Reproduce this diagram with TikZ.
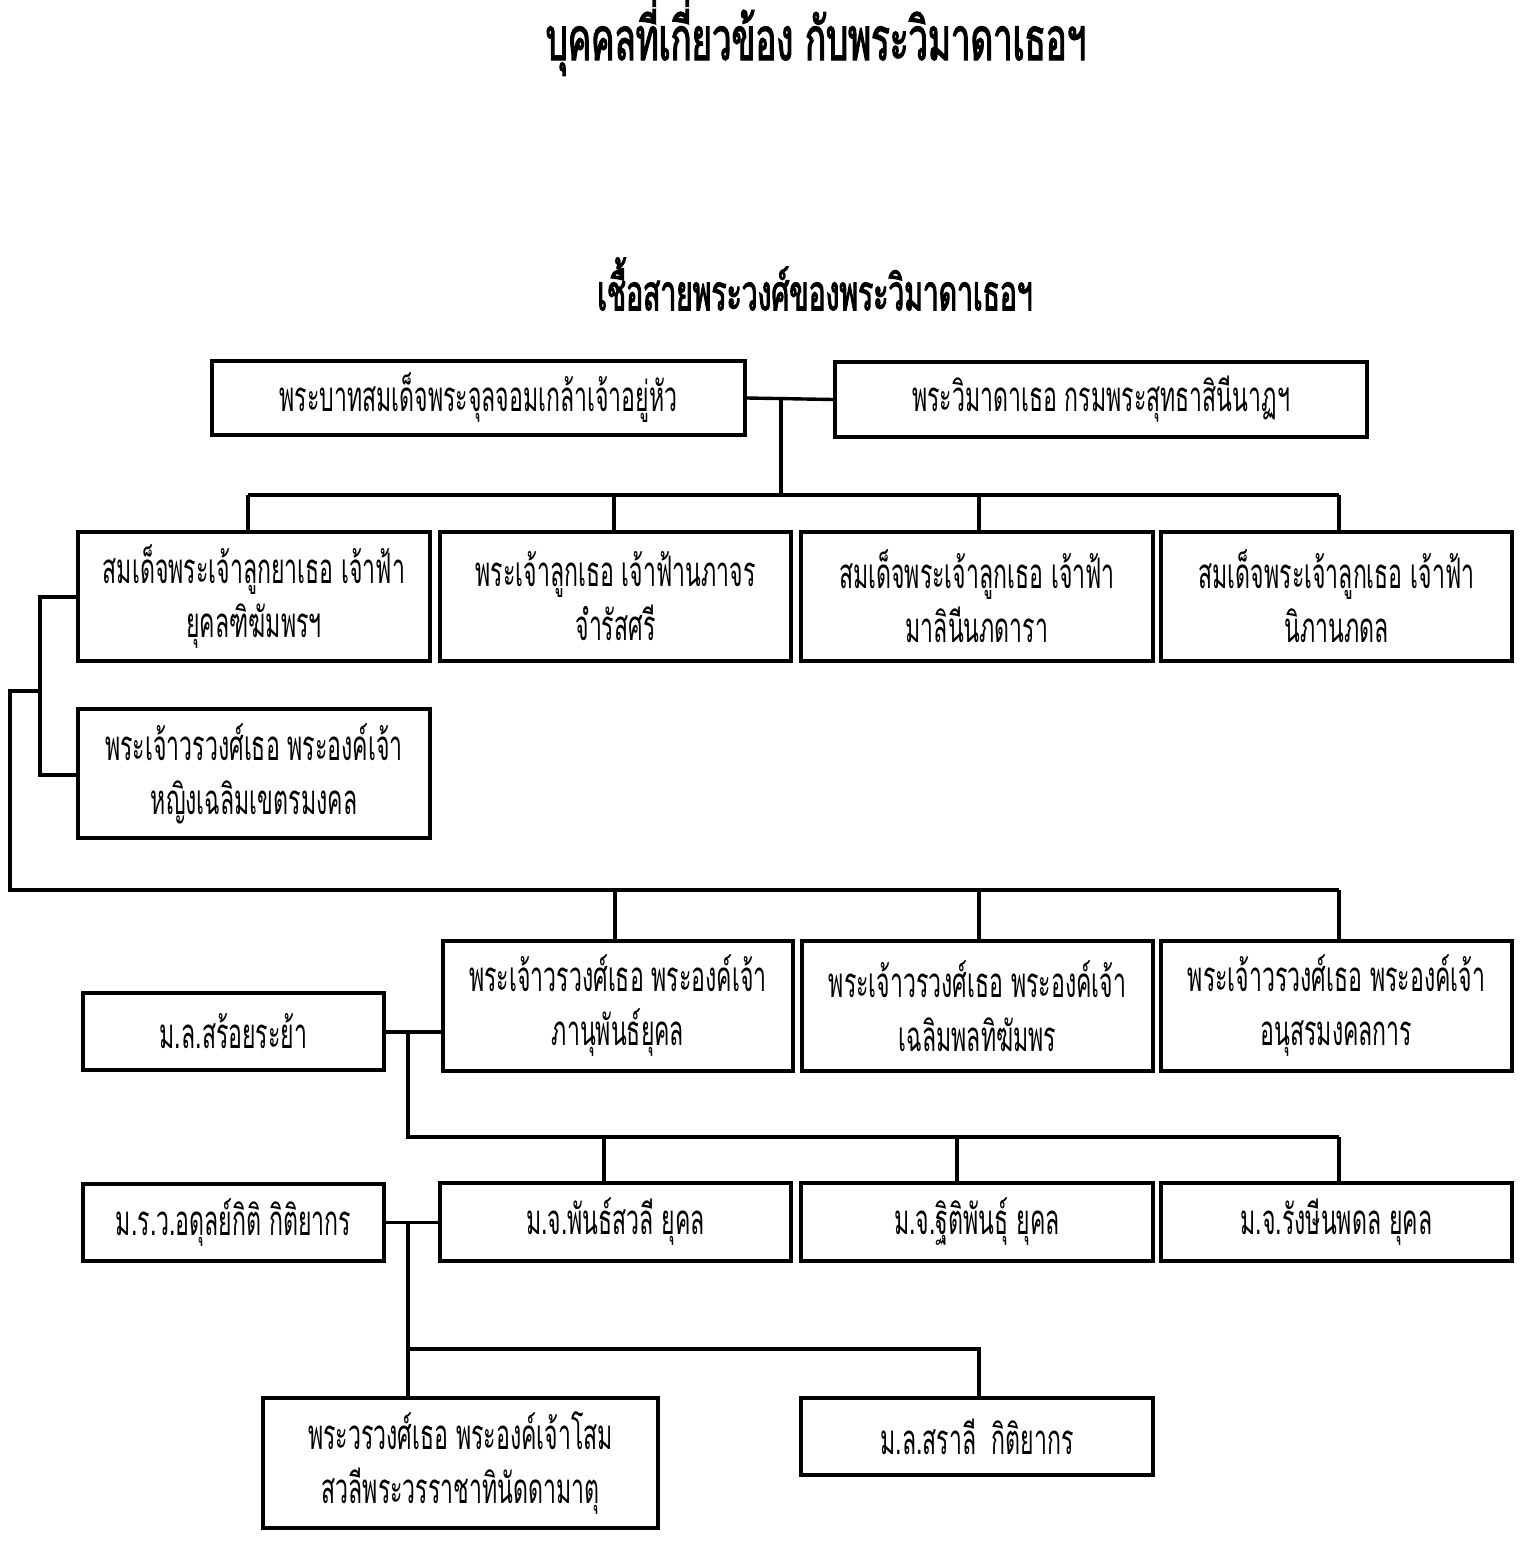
\documentclass[tikz,border=0pt]{standalone}
\usepackage{fontspec}
\newfontfamily\thai[Script=Thai, FakeStretch=0.55]{Loma}
\newfontfamily\thaititle[Script=Thai, FakeStretch=0.58, FakeBold=2]{Loma}
\newfontfamily\thaisub[Script=Thai, FakeStretch=0.565, FakeBold=2]{Loma}
\tikzset{
  box/.style={draw, line width=1.7pt, inner sep=0pt, align=center,
    font=\thai\fontsize{21}{27}\selectfont},
  conn/.style={line width=1.7pt}}
\begin{document}
\begin{tikzpicture}[x=0.5pt,y=-0.5pt]
\useasboundingbox (0,0) rectangle (1537,1557);
% titles
\node[font=\thaititle\fontsize{30}{34}\selectfont] (title) at (816,37) {บุคคลที่เกี่ยวข้อง กับพระวิมาดาเธอฯ};
\node[font=\thaisub\fontsize{25}{30}\selectfont] (sub) at (815,284) {เชื้อสายพระวงศ์ของพระวิมาดาเธอฯ};
% row 0
\node[box, minimum width=266.5pt, minimum height=37pt] (A) at (478.5,398) {พระบาทสมเด็จพระจุลจอมเกล้าเจ้าอยู่หัว};
\node[box, minimum width=266pt, minimum height=37.5pt] (B) at (1101,399.5) {พระวิมาดาเธอ กรมพระสุทธาสินีนาฏฯ};
% row 1
\node[box, minimum width=176pt, minimum height=64.5pt] (C1) at (254,596.5) {สมเด็จพระเจ้าลูกยาเธอ เจ้าฟ้า\\ยุคลฑิฆัมพรฯ};
\node[box, minimum width=175.5pt, minimum height=64.5pt] (C2) at (615.5,596.5) {พระเจ้าลูกเธอ เจ้าฟ้านภาจร\\จำรัสศรี};
\node[box, minimum width=176pt, minimum height=64.5pt] (C3) at (977,596.5) {สมเด็จพระเจ้าลูกเธอ เจ้าฟ้า\\มาลินีนภดารา};
\node[box, minimum width=175.5pt, minimum height=64.5pt] (C4) at (1336.5,596.5) {สมเด็จพระเจ้าลูกเธอ เจ้าฟ้า\\นิภานภดล};
\node[box, minimum width=176pt, minimum height=64.5pt] (D) at (254,773.5) {พระเจ้าวรวงศ์เธอ พระองค์เจ้า\\หญิงเฉลิมเขตรมงคล};
% row 3
\node[box, minimum width=175pt, minimum height=65pt] (E1) at (618,1006) {พระเจ้าวรวงศ์เธอ พระองค์เจ้า\\ภานุพันธ์ยุคล};
\node[box, minimum width=175.5pt, minimum height=65pt] (E2) at (977.5,1006) {พระเจ้าวรวงศ์เธอ พระองค์เจ้า\\เฉลิมพลทิฆัมพร};
\node[box, minimum width=175.5pt, minimum height=65pt] (E3) at (1336.5,1006) {พระเจ้าวรวงศ์เธอ พระองค์เจ้า\\อนุสรมงคลการ};
\node[box, minimum width=150.5pt, minimum height=38.5pt] (F) at (233.5,1031.5) {ม.ล.สร้อยระย้า};
% row 4
\node[box, minimum width=175.5pt, minimum height=39pt] (G1) at (615.5,1222) {ม.จ.พันธ์สวลี ยุคล};
\node[box, minimum width=176pt, minimum height=39pt] (G2) at (977,1222) {ม.จ.ฐิติพันธุ์ ยุคล};
\node[box, minimum width=175.5pt, minimum height=39pt] (G3) at (1336.5,1222) {ม.จ.รังษีนพดล ยุคล};
\node[box, minimum width=150.5pt, minimum height=38.5pt] (H) at (233.5,1222.5) {ม.ร.ว.อดุลย์กิติ กิติยากร};
% row 5
\node[box, minimum width=197.5pt, minimum height=65pt] (I) at (460.5,1463) {พระวรวงศ์เธอ พระองค์เจ้าโสม\\สวลีพระวรราชาทินัดดามาตุ};
\node[box, minimum width=176pt, minimum height=38.5pt] (J) at (977,1436.5) {ม.ล.สราลี\ \ กิติยากร};
% connector coordinates
\coordinate (j1) at (781,400);
\coordinate (b1) at (781,495);
\coordinate (bL) at (248,495);
\coordinate (bR) at (1339,495);
\coordinate (c2t) at (614,495);
\coordinate (c3t) at (979,495);
\coordinate (k1) at (40,597);
\coordinate (k2) at (40,691);
\coordinate (k3) at (40,775);
\coordinate (m1) at (10,691);
\coordinate (m2) at (10,890);
\coordinate (mR) at (1339,890);
\coordinate (e1t) at (615,890);
\coordinate (e2t) at (979,890);
\coordinate (f1) at (408,1032);
\coordinate (f2) at (408,1137);
\coordinate (fR) at (1339,1137);
\coordinate (g1t) at (604,1137);
\coordinate (g2t) at (957,1137);
\coordinate (h1) at (408,1222);
\coordinate (h2) at (408,1349);
\coordinate (hR) at (979,1349);
% connectors
\draw[conn] (A.east) -- (B.west);
\draw[conn] (j1) -- (b1);
\draw[conn] (bL) -- (bR);
\draw[conn] (bL) -- (bL |- C1.north);
\draw[conn] (c2t) -- (c2t |- C2.north);
\draw[conn] (c3t) -- (c3t |- C3.north);
\draw[conn] (bR) -- (bR |- C4.north);
\draw[conn] (C1.west |- k1) -- (k1) -- (k3) -- (k3 -| D.west);
\draw[conn] (k2) -- (m1) -- (m2) -- (mR);
\draw[conn] (e1t) -- (e1t |- E1.north);
\draw[conn] (e2t) -- (e2t |- E2.north);
\draw[conn] (mR) -- (mR |- E3.north);
\draw[conn] (F.east |- f1) -- (f1 -| E1.west);
\draw[conn] (f1) -- (f2) -- (fR);
\draw[conn] (g1t) -- (g1t |- G1.north);
\draw[conn] (g2t) -- (g2t |- G2.north);
\draw[conn] (fR) -- (fR |- G3.north);
\draw[conn] (H.east) -- (H.east -| G1.west);
\draw[conn] (h1) -- (h1 |- I.north);
\draw[conn] (h2) -- (hR) -- (hR |- J.north);
\end{tikzpicture}
\end{document}
